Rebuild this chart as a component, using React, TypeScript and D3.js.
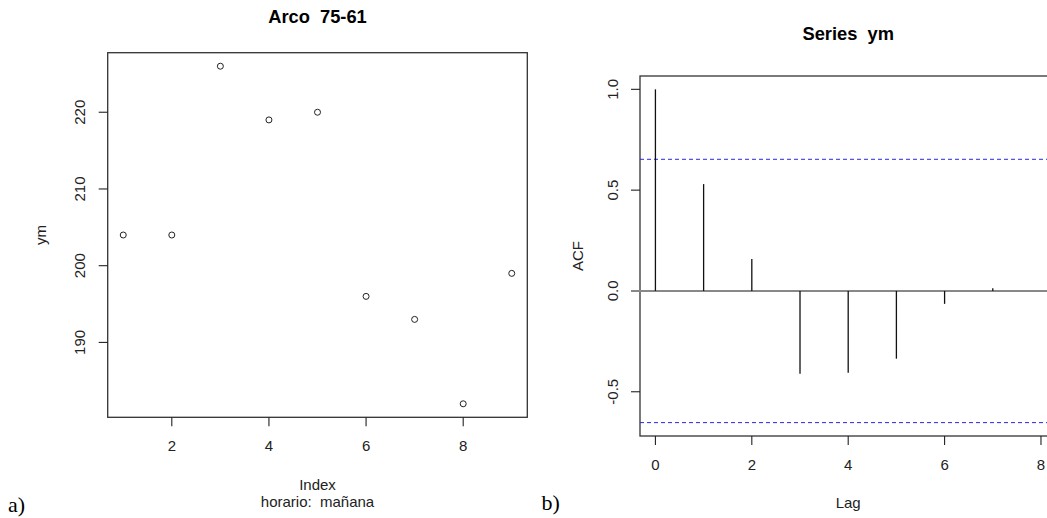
import React from "react";
import * as d3 from "d3";

// ---- data ----
const indexValues = [1, 2, 3, 4, 5, 6, 7, 8, 9];
const ymValues = [204, 204, 226, 219, 220, 196, 193, 182, 199];
const lagValues = [0, 1, 2, 3, 4, 5, 6, 7];
const acfValues = [1.0, 0.53, 0.158, -0.411, -0.406, -0.336, -0.064, 0.013];
const ciBound = 0.653;
const leftXTicks = [2, 4, 6, 8];
const leftYTicks = [190, 200, 210, 220];
const rightXTicks = [0, 2, 4, 6, 8];
const rightYTicks = [-0.5, 0.0, 0.5, 1.0];
const leftTitle = "Arco  75-61";
const leftXLabel = "Index";
const leftSub = "horario:  mañana";
const leftYLabel = "ym";
const rightTitle = "Series  ym";
const rightXLabel = "Lag";
const rightYLabel = "ACF";

const W = 1047;
const H = 518;
const SANS = "'Liberation Sans', Arial, sans-serif";
const SERIF = "'Liberation Serif', 'Times New Roman', serif";
const FS = 15;
const TICK = 9;
const PRE: React.CSSProperties = { whiteSpace: "pre" };

export default function App() {
  // left panel
  const lx = d3.scaleLinear().domain([0.68, 9.32]).range([107.7, 527.3]);
  const ly = d3.scaleLinear().domain([180.24, 227.76]).range([417.3, 52.7]);
  const L = { x0: 107.7, x1: 527.3, y0: 52.7, y1: 417.3 };

  // right panel
  const rx = d3.scaleLinear().domain([-0.32, 8.32]).range([640, 1056.4]);
  const ry = d3.scaleLinear().domain([-0.7194, 1.0661]).range([436, 76]);
  const R = { x0: 640, x1: 1056.4, y0: 76, y1: 436 };

  const fmt1 = (v: number) => v.toFixed(1);
  const axisCol = "#222";

  return (
    <svg
      width={W}
      height={H}
      style={{ position: "absolute", left: 0, top: 0, background: "#fff" }}
      fontFamily={SANS}
    >
      <rect x={0} y={0} width={W} height={H} fill="#fff" />

      {/* ===== Left panel ===== */}
      <text x={(L.x0 + L.x1) / 2} y={22.7} textAnchor="middle" fontWeight="bold" fontSize={18.3} fill="#000" style={PRE}>
        {leftTitle}
      </text>
      <rect x={L.x0} y={L.y0} width={L.x1 - L.x0} height={L.y1 - L.y0} fill="none" stroke="#333" strokeWidth={1.3} />
      {/* y axis */}
      {leftYTicks.map((t) => (
        <g key={"ly" + t}>
          <line x1={L.x0 - TICK} x2={L.x0} y1={ly(t)} y2={ly(t)} stroke={axisCol} strokeWidth={1.1} />
          <text
            transform={`translate(${85},${ly(t)}) rotate(-90)`}
            textAnchor="middle"
            fontSize={FS}
            fill="#222"
          >
            {t}
          </text>
        </g>
      ))}
      {/* x axis */}
      {leftXTicks.map((t) => (
        <g key={"lx" + t}>
          <line x1={lx(t)} x2={lx(t)} y1={L.y1} y2={L.y1 + TICK} stroke={axisCol} strokeWidth={1.1} />
          <text x={lx(t)} y={450.7} textAnchor="middle" fontSize={FS} fill="#222">
            {t}
          </text>
        </g>
      ))}
      {ymValues.map((v, i) => (
        <circle key={"p" + i} cx={lx(indexValues[i])} cy={ly(v)} r={3} fill="none" stroke="#222" strokeWidth={1} />
      ))}
      <text x={(L.x0 + L.x1) / 2} y={490} textAnchor="middle" fontSize={FS} fill="#222">
        {leftXLabel}
      </text>
      <text x={(L.x0 + L.x1) / 2} y={506.7} textAnchor="middle" fontSize={FS} fill="#222" style={PRE}>
        {leftSub}
      </text>
      <text
        transform={`translate(${46},${(L.y0 + L.y1) / 2}) rotate(-90)`}
        textAnchor="middle"
        fontSize={FS}
        fill="#222"
      >
        {leftYLabel}
      </text>
      <text x={8} y={511.5} fontFamily={SERIF} fontSize={22} fill="#000">
        a)
      </text>

      {/* ===== Right panel ===== */}
      <text x={(R.x0 + R.x1) / 2} y={40} textAnchor="middle" fontWeight="bold" fontSize={18.3} fill="#000" style={PRE}>
        {rightTitle}
      </text>
      <rect x={R.x0} y={R.y0} width={R.x1 - R.x0} height={R.y1 - R.y0} fill="none" stroke="#333" strokeWidth={1.3} />
      {rightYTicks.map((t) => (
        <g key={"ry" + t}>
          <line x1={R.x0 - TICK} x2={R.x0} y1={ry(t)} y2={ry(t)} stroke={axisCol} strokeWidth={1.1} />
          <text
            transform={`translate(${618},${ry(t)}) rotate(-90)`}
            textAnchor="middle"
            fontSize={FS}
            fill="#222"
          >
            {fmt1(t)}
          </text>
        </g>
      ))}
      {rightXTicks.map((t) => (
        <g key={"rx" + t}>
          <line x1={rx(t)} x2={rx(t)} y1={R.y1} y2={R.y1 + TICK} stroke={axisCol} strokeWidth={1.1} />
          <text x={rx(t)} y={470} textAnchor="middle" fontSize={FS} fill="#222">
            {t}
          </text>
        </g>
      ))}
      {/* zero line */}
      <line x1={631} x2={W} y1={ry(0)} y2={ry(0)} stroke="#888" strokeWidth={2} />
      {/* confidence bounds */}
      {[ciBound, -ciBound].map((c, i) => (
        <line
          key={"ci" + i}
          x1={R.x0}
          x2={R.x1}
          y1={ry(c)}
          y2={ry(c)}
          stroke="#2828e0"
          strokeWidth={1}
          strokeDasharray="4,3"
        />
      ))}
      {/* acf stems */}
      {acfValues.map((v, i) => (
        <line
          key={"s" + i}
          x1={rx(lagValues[i])}
          x2={rx(lagValues[i])}
          y1={ry(0)}
          y2={ry(v)}
          stroke="#111"
          strokeWidth={1.3}
        />
      ))}
      <text x={(R.x0 + R.x1) / 2} y={508} textAnchor="middle" fontSize={FS} fill="#222">
        {rightXLabel}
      </text>
      <text
        transform={`translate(${583.3},${(R.y0 + R.y1) / 2}) rotate(-90)`}
        textAnchor="middle"
        fontSize={FS}
        fill="#222"
      >
        {rightYLabel}
      </text>
      <text x={541.5} y={510} fontFamily={SERIF} fontSize={22} fill="#000">
        b)
      </text>
    </svg>
  );
}
